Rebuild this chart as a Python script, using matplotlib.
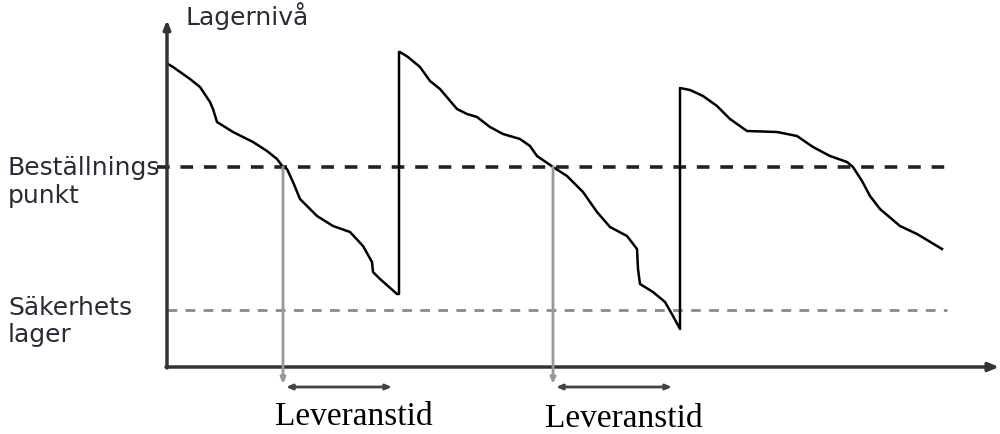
import matplotlib
matplotlib.use("Agg")
import matplotlib.pyplot as plt

# Inventory level curve (time, level)
stock_t = [1, 6, 23, 33, 43, 46, 50, 66, 86, 100, 110, 116, 120, 126, 133, 150, 166, 183, 196,
           205, 206, 213, 230, 232, 232,
           233, 241, 253, 263, 273, 290, 300, 310, 323, 336, 353, 363, 370, 386, 400, 416, 430,
           443, 460, 470, 471, 473, 486, 498, 506, 513, 513,
           523, 536, 550, 563, 580, 610, 630, 646, 663, 680, 686, 695, 703, 713, 733, 750, 775]
stock_lvl = [303, 300, 288, 280, 265, 258, 245, 235, 225, 216, 208, 200, 198, 185, 168, 151, 141, 135, 121,
             105, 95, 88, 73, 73, 315,
             315, 310, 300, 286, 278, 258, 253, 250, 240, 233, 228, 221, 211, 200, 191, 175, 155,
             140, 131, 118, 98, 83, 75, 65, 51, 38, 279,
             277, 271, 261, 248, 236, 235, 231, 220, 211, 205, 200, 186, 171, 158, 141, 133, 118]

reorder_level = 200
safety_level = 57
order_times = [116, 386]
delivery_times = [231, 511]
lead_label = "Leveranstid"

fig = plt.figure(figsize=(10, 4.35), dpi=100)
ax = fig.add_axes([0, 0, 1, 1])
ax.set_xlim(-167, 833)
ax.set_ylim(-67, 368)
ax.axis("off")

axis_col = "#333333"
txt_col = "#2b2b38"

# axes with arrows
ax.annotate("", xy=(0, 347), xytext=(0, -1),
            arrowprops=dict(arrowstyle="-|>,head_length=0.5,head_width=0.2", color=axis_col, lw=2.5,
                            shrinkA=0, shrinkB=0))
ax.annotate("", xy=(832, 0), xytext=(-1, 0),
            arrowprops=dict(arrowstyle="-|>,head_length=0.6,head_width=0.25", color=axis_col, lw=2.5,
                            shrinkA=0, shrinkB=0))

# reference levels
ax.plot([-10, 780], [reorder_level, reorder_level], color="#222222", lw=2.6, dashes=(3.5, 3.0))
ax.plot([0, 780], [safety_level, safety_level], color="#8a8a8a", lw=2.0, dashes=(3.5, 3.0))

# stock curve
ax.plot(stock_t, stock_lvl, color="black", lw=1.8, solid_joinstyle="round")

# order points and lead time arrows
for t0, t1 in zip(order_times, delivery_times):
    ax.annotate("", xy=(t0, -17), xytext=(t0, reorder_level),
                arrowprops=dict(arrowstyle="-|>,head_length=0.35,head_width=0.15", color="#999999",
                                lw=2.0, shrinkA=0, shrinkB=0))
    ax.annotate("", xy=(t1 - 6, -20), xytext=(t0 + 3, -20),
                arrowprops=dict(arrowstyle="<|-|>,head_length=0.35,head_width=0.15", color="#444444",
                                lw=2.0, shrinkA=0, shrinkB=0))

ax.text(108, -57, lead_label, family="Liberation Serif", fontsize=24, color="black", va="baseline")
ax.text(378, -59, lead_label, family="Liberation Serif", fontsize=24, color="black", va="baseline")

# labels
ax.text(18, 343, "Lagernivå", fontsize=18, color=txt_col, va="baseline")
ax.text(-159, 193, "Beställnings", fontsize=18, color=txt_col, va="baseline")
ax.text(-159, 165, "punkt", fontsize=18, color=txt_col, va="baseline")
ax.text(-159, 53, "Säkerhets", fontsize=18, color=txt_col, va="baseline")
ax.text(-159, 26, "lager", fontsize=18, color=txt_col, va="baseline")

fig.savefig("out.png", dpi=100)
